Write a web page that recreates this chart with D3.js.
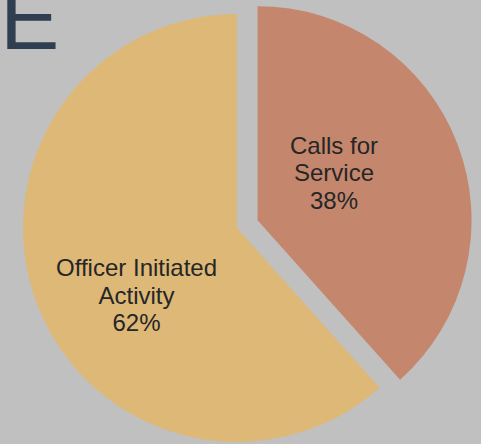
<!DOCTYPE html>
<html>
<head>
<meta charset="utf-8">
<script src="https://cdn.jsdelivr.net/npm/d3@7"></script>
<style>
  html, body { margin: 0; padding: 0; background: #c0c0c0; }
  svg { display: block; }
  .slice-label { font-family: "Liberation Sans", Arial, sans-serif; font-size: 24px; fill: #262626; }
</style>
</head>
<body>
<div id="chart"></div>
<script>
const categories = ['Calls for Service', 'Officer Initiated Activity'];
const shares = [38.4, 61.6];
const labelLines = [['Calls for', 'Service'], ['Officer Initiated', 'Activity']];

const W = 481, H = 444;
const colors = ['#c4876d', '#ddb877'];
const radius = 214;
const center = [237, 228];
const explode = [22, 0];
const labelRadius = [90, 121];
const labelShift = [-11, -13];

const svg = d3.select('#chart').append('svg')
  .attr('width', W)
  .attr('height', H);

svg.append('rect')
  .attr('width', W)
  .attr('height', H)
  .attr('fill', '#c0c0c0');

// cut-off title letter in the corner
svg.append('text')
  .attr('x', 0)
  .attr('y', 49)
  .attr('font-family', '"Liberation Sans", Arial, sans-serif')
  .attr('font-size', 89)
  .attr('fill', '#2f3e50')
  .text('E');

const pie = d3.pie().sort(null).value(d => d.v);
const arcs = pie(shares.map((v, i) => ({ v, i })));
const arc = d3.arc().innerRadius(0).outerRadius(radius);

const gP = svg.append('g');
const gT = svg.append('g');

arcs.forEach((a, i) => {
  const mid = (a.startAngle + a.endAngle) / 2;
  const ox = center[0] + explode[i] * Math.sin(mid);
  const oy = center[1] - explode[i] * Math.cos(mid);

  gP.append('path')
    .attr('transform', `translate(${ox},${oy})`)
    .attr('d', arc(a))
    .attr('fill', colors[i]);

  const la = mid + labelShift[i] * Math.PI / 180;
  const lx = ox + labelRadius[i] * Math.sin(la);
  const ly = oy - labelRadius[i] * Math.cos(la);
  const lines = labelLines[i].concat([`${Math.round(a.data.v)}%`]);
  const lh = 27.5;
  const t = gT.append('text')
    .attr('class', 'slice-label')
    .attr('text-anchor', 'middle')
    .attr('x', lx)
    .attr('y', ly - lh * (lines.length - 1) / 2 + 8.5);
  lines.forEach((s, k) => {
    t.append('tspan')
      .attr('x', lx)
      .attr('dy', k === 0 ? 0 : lh)
      .text(s);
  });
});
</script>
</body>
</html>
